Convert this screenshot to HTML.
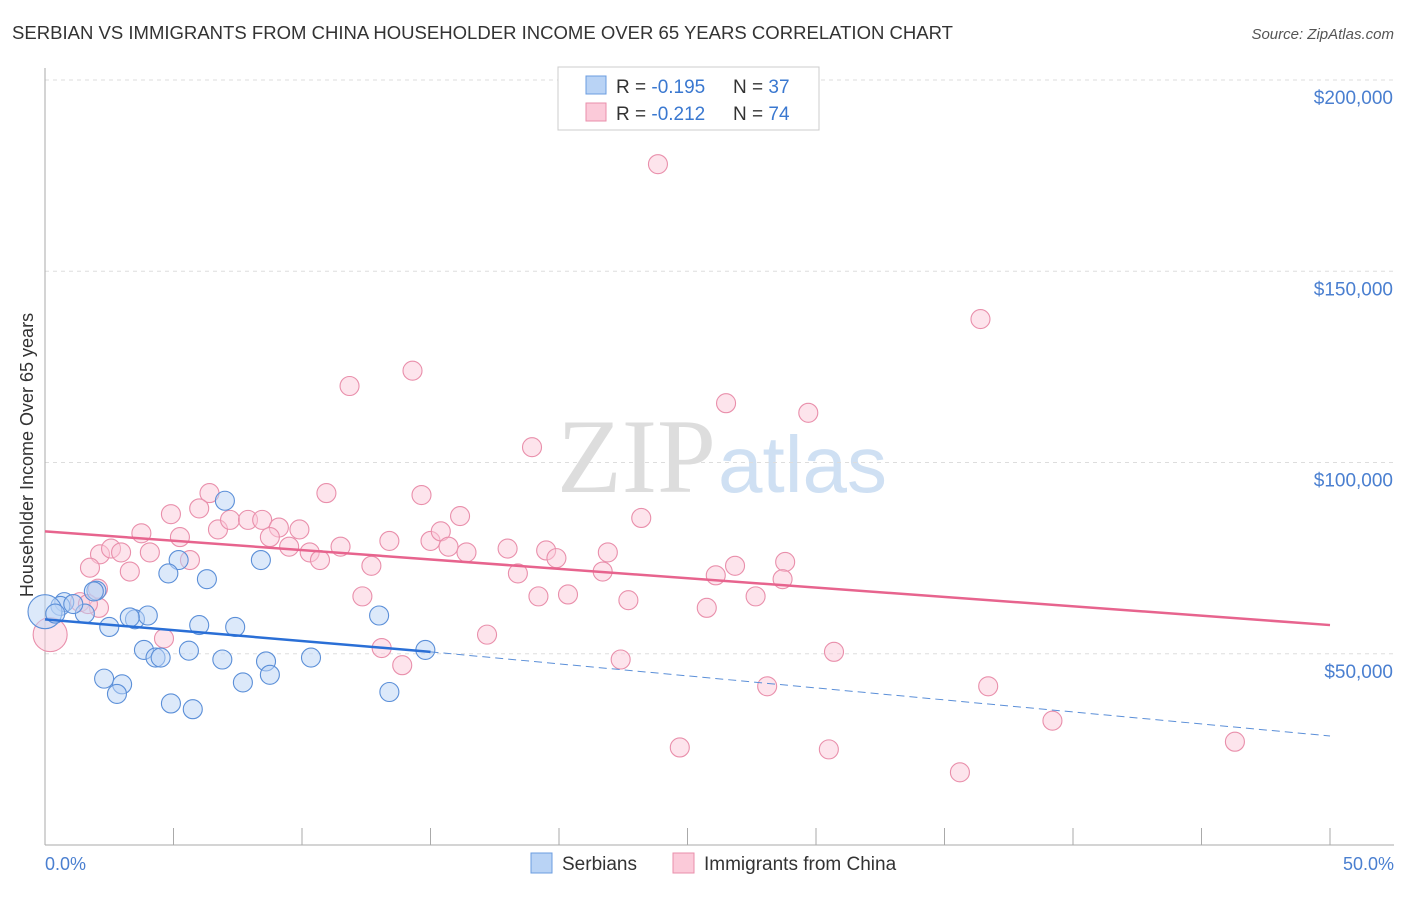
<!DOCTYPE html>
<html><head><meta charset="utf-8"><style>
body{margin:0;background:#fff;font-family:"Liberation Sans",sans-serif}
</style></head><body>
<svg id="c" width="1406" height="892" xmlns="http://www.w3.org/2000/svg">
<text x="12" y="39" font-size="18" fill="#333" textLength="941" lengthAdjust="spacingAndGlyphs">SERBIAN VS IMMIGRANTS FROM CHINA HOUSEHOLDER INCOME OVER 65 YEARS CORRELATION CHART</text>
<text x="1394" y="39" font-size="15" fill="#555" font-style="italic" text-anchor="end">Source: ZipAtlas.com</text>
<text x="716" y="492" font-size="106" fill="#ddd" text-anchor="end" font-family="Liberation Serif">ZIP</text>
<text x="718" y="492" font-size="80" fill="#cfe0f3">atlas</text>
<g id="grid"></g><g id="axes"></g><g id="pts"></g><g id="trend"></g>
<text transform="translate(33,455) rotate(-90)" font-size="18" fill="#333" text-anchor="middle">Householder Income Over 65 years</text>
<text x="45" y="870" font-size="18" fill="#4a7fd0">0.0%</text>
<text x="1394" y="870" font-size="18" fill="#4a7fd0" text-anchor="end">50.0%</text>
<g>
<rect x="558" y="67" width="261" height="63" fill="#fff" stroke="#ccc"/>
<rect x="586" y="76" width="20" height="18" fill="#b9d3f5" stroke="#6b9de0"/>
<rect x="586" y="103" width="20" height="18" fill="#fbcad9" stroke="#e98fab"/>
<text x="616" y="93" font-size="19" fill="#333">R = <tspan fill="#3a78d0">-0.195</tspan></text>
<text x="733" y="93" font-size="19" fill="#333">N = <tspan fill="#3a78d0">37</tspan></text>
<text x="616" y="120" font-size="19" fill="#333">R = <tspan fill="#3a78d0">-0.212</tspan></text>
<text x="733" y="120" font-size="19" fill="#333">N = <tspan fill="#3a78d0">74</tspan></text>
</g>
<g>
<rect x="531" y="853" width="21" height="20" fill="#b9d3f5" stroke="#6b9de0"/>
<text x="562" y="870" font-size="19" fill="#333">Serbians</text>
<rect x="673" y="853" width="21" height="20" fill="#fbcad9" stroke="#e98fab"/>
<text x="704" y="870" font-size="19" fill="#333">Immigrants from China</text>
</g>
</svg>
<script>
const yTicks=[50000,100000,150000,200000];
const yTickLabels=["$50,000","$100,000","$150,000","$200,000"];
const serbX=[7.0,5.2,8.4,6.3,4.8,2.0,1.9,0.75,0.6,1.55,1.1,2.5,3.5,4.0,3.3,6.0,7.4,13.0,3.85,4.3,4.5,5.6,6.9,8.6,10.35,14.8,2.3,3.0,2.8,4.9,5.75,7.7,8.75,13.4,0.0,0.4];
const serbY=[90000,74500,74500,69500,71000,66500,66300,63500,62500,60500,63000,57000,59000,60000,59500,57500,57000,60000,51000,49000,49000,50800,48500,48000,49000,51000,43500,42000,39500,37000,35500,42500,44500,40000,61000,60500];
const chinaX=[23.85,36.4,11.85,14.3,26.5,29.7,18.95,6.4,10.95,14.65,4.9,6.0,16.15,23.2,3.75,5.25,6.73,7.2,7.9,8.45,9.1,9.9,8.75,13.4,15.0,15.4,15.7,9.5,10.3,11.5,2.14,2.57,2.96,4.08,5.64,10.7,16.4,18.0,19.5,19.9,21.9,12.7,18.4,21.7,26.1,26.85,28.8,28.7,1.75,3.3,12.35,19.2,20.35,22.7,27.65,25.75,2.06,1.36,2.1,1.67,4.63,17.2,13.1,13.9,22.4,30.7,28.1,36.7,39.2,24.7,30.5,35.6,46.3,0.2];
const chinaY=[178000,137500,120000,124000,115500,113000,104000,92000,92000,91500,86500,88000,86000,85500,81500,80500,82500,85000,85000,85000,83000,82500,80500,79500,79500,82000,78000,78000,76500,78000,76000,77500,76500,76500,74500,74500,76500,77500,77000,75000,76500,73000,71000,71500,70500,73000,74000,69500,72500,71500,65000,65000,65500,64000,65000,62000,67000,63500,62000,63000,54000,55000,51500,47000,48500,50500,41500,41500,32500,25500,25000,19000,27000,55000];
const serbTrend=[[0,59000],[15,50500]];
const serbDash=[[15,50500],[50,28500]];
const chinaTrend=[[0,82000],[50,57500]];
const X=v=>45+v/50*1285, Y=v=>845-v/200000*765;
const ns="http://www.w3.org/2000/svg";
function mk(t,a,p){const e=document.createElementNS(ns,t);for(const k in a)e.setAttribute(k,a[k]);document.getElementById(p).appendChild(e);return e;}
yTicks.forEach((t,i)=>{
 const l=mk('line',{x1:45,x2:1394,y1:Y(t),y2:Y(t),stroke:'#ddd','stroke-dasharray':'4,4'},'grid');
 
 
 const tx=mk('text',{x:1393,y:Y(t)+24,'font-size':19,fill:'#4a7fd0','text-anchor':'end'},'grid');
 tx.textContent=yTickLabels[i];
 
 
});
const ax=mk('line',{x1:45,x2:45,y1:68,y2:845,stroke:'#aaa'},'axes');


const bx=mk('line',{x1:45,x2:1394,y1:845,y2:845,stroke:'#aaa'},'axes');


for(let i=0;i<=10;i++){const t=mk('line',{x1:X(i*5),x2:X(i*5),y1:828,y2:845,stroke:'#aaa'},'axes');
 
 }
function pts(xs,ys,f,s,n){xs.forEach((x,i)=>{const big=i>=xs.length-1&&n=='china-point'||(n=='serbian-point'&&i==xs.length-2);
 const c=mk('circle',{cx:X(x),cy:Y(ys[i]),r:big?17:9.5,fill:f,'fill-opacity':0.5,stroke:s,'stroke-width':1.1},'pts');
 
 });}
pts(chinaX,chinaY,'#fbcad9','#e98fab','china-point');
pts(serbX,serbY,'#b9d3f5','#5b8fd8','serbian-point');
function ln(p,s,w,d,n){const l=mk('line',{x1:X(p[0][0]),y1:Y(p[0][1]),x2:X(p[1][0]),y2:Y(p[1][1]),stroke:s,'stroke-width':w},'trend');if(d)l.setAttribute('stroke-dasharray',d);
 
 }
ln(chinaTrend,'#e7648e',2.5,null,'china-trendline');
ln(serbTrend,'#2a6fd6',2.5,null,'serbian-trendline');
ln(serbDash,'#5b8fd8',1,'8,5','serbian-trendline-extension');
</script>
</body></html>
